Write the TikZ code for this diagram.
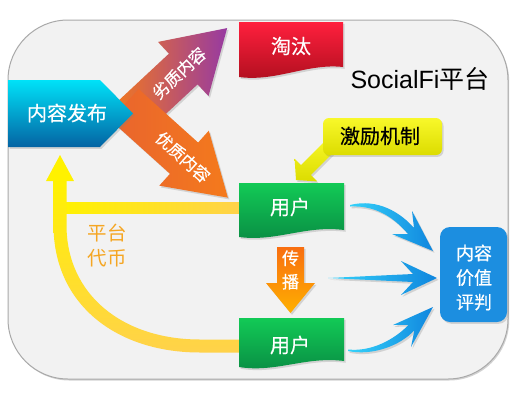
\documentclass[tikz,border=0pt]{standalone}
\usepackage{fontspec}
\setmainfont{Noto Sans CJK SC}
\newfontfamily\cjkm{Noto Sans CJK SC}[FakeBold=0.45]
\newfontfamily\latinf{Liberation Sans}
\usetikzlibrary{shadows}
\definecolor{bgfill}{HTML}{F2F2F2}
\definecolor{bgline}{HTML}{A9A9A9}
\definecolor{cyanT}{HTML}{00E2F8}
\definecolor{blueB}{HTML}{0463A3}
\definecolor{redT}{HTML}{FF1F3D}
\definecolor{redB}{HTML}{AE0F1E}
\definecolor{greenT}{HTML}{12CA56}
\definecolor{greenB}{HTML}{098C43}
\definecolor{arOrange}{HTML}{F47A1C}
\definecolor{arOrangeD}{HTML}{E9642E}
\definecolor{arPurple}{HTML}{973AA2}
\definecolor{yelA}{HTML}{FFF200}
\definecolor{yelB}{HTML}{FFD24A}
\definecolor{callT}{HTML}{F8F82A}
\definecolor{callB}{HTML}{DCDC00}
\definecolor{spOrT}{HTML}{F86E10}
\definecolor{spOrB}{HTML}{FFB000}
\definecolor{evTop}{HTML}{1C8EE0}
\definecolor{evMid}{HTML}{05CDF5}
\definecolor{swA}{HTML}{35D2FA}
\definecolor{swB}{HTML}{1086DE}
\definecolor{coinTxt}{HTML}{F5A623}
\tikzset{
  shd/.style={drop shadow={opacity=0.28, shadow xshift=1.5pt, shadow yshift=-1.8pt}},
  wtext/.style={text=white, inner sep=0pt, font=\cjkm\fontsize{#1}{#1}\selectfont},
  wtext/.default=20,
  swoosh/.style={left color=swA, right color=swB, draw=none},
}
\begin{document}
\begin{tikzpicture}[x=1pt,y=-1pt]
\useasboundingbox (0,0) rectangle (520,400);
\fill[white] (0,0) rectangle (520,400);
% platform background
\draw[bgline, fill=bgfill, line width=1pt, rounded corners=60pt,
      drop shadow={opacity=0.35, shadow xshift=1.2pt, shadow yshift=-1.5pt}]
  (8,20) rectangle (508,379);

% yellow token arrows
\path[left color=yelA, right color=yelB] (60,202.5) rectangle (241,213.5);
\path[top color=yelA, bottom color=yelB]
  (53.5,178) -- (53.5,225) .. controls (53.5,305) and (117,352.5) .. (200,352.5)
  -- (241,352.5) -- (241,339.5) -- (200,339.5)
  .. controls (123,339.5) and (66.5,295) .. (66.5,225) -- (66.5,178) -- cycle;
\fill[yelA] (60,155) -- (74,181) -- (46,181) -- cycle;
\node[text=coinTxt, inner sep=0pt, align=center, font=\fontsize{19.5}{25}\selectfont] (coin) at (107,245.5) {平台\\代币};

% diagonal arrows
\begin{scope}[shift={(135,114)}, rotate=43]
  \path[shd, left color=arOrange, right color=arPurple]
    (-14,-21) -- (66,-21) -- (66,-37) -- (126,0) -- (66,37) -- (66,21) -- (-14,21) -- cycle;
\end{scope}
\begin{scope}[shift={(135,114)}, rotate=-42]
  \path[shd, left color=arOrangeD, right color=arOrange]
    (-14,-21) -- (66,-21) -- (66,-37) -- (125,0) -- (66,37) -- (66,21) -- (-14,21) -- cycle;
\end{scope}
\node[wtext=16.5, rotate=43] (bad) at (179,73) {劣质内容};
\node[wtext=16.5, rotate=-42] (good) at (183,157) {优质内容};

% content publishing
\path[shd, top color=cyanT, bottom color=blueB]
  (8,80) -- (100,80) -- (133,113.5) -- (100,147) -- (8,147) -- cycle;
\node[wtext=20] (pub) at (67,113) {内容发布};

% eliminated
\path[shd, top color=redT, bottom color=redB]
  (239,22) -- (343,22) -- (343,67) .. controls (308,63) and (276,82) .. (239,77) -- cycle;
\node[wtext=20] (elim) at (291,46) {淘汰};

% platform title
\node[inner sep=0pt, font=\fontsize{25}{25}\selectfont] (title) at (420,79) {{\latinf SocialFi}平台};

% incentive callout
\begin{scope}[shift={(296,180)}, rotate=45]
  \path[shd, top color=callT, bottom color=callB]
    (0,0) -- (14,-16) -- (14,-7) -- (54,-7) -- (54,7) -- (14,7) -- (14,16) -- cycle;
\end{scope}
\path[shd, top color=callT, bottom color=callB, rounded corners=6pt] (323,118) rectangle (442,155);
\node[inner sep=0pt, font=\cjkm\fontsize{20}{20}\selectfont] (inc) at (380,136) {激励机制};

% users
\path[shd, top color=greenT, bottom color=greenB]
  (239,183) -- (344,183) -- (344,230) .. controls (306,225) and (276,242) .. (239,237) -- cycle;
\node[wtext=20] (u1) at (290,207) {用户};
\path[shd, top color=greenT, bottom color=greenB]
  (239,318) -- (344,318) -- (344,361) .. controls (306,356) and (276,373) .. (239,367) -- cycle;
\node[wtext=20] (u2) at (290,345) {用户};

% spread arrow
\path[shd, top color=spOrT, bottom color=spOrB]
  (277,247) -- (304,247) -- (304,283) -- (315,283) -- (290.5,313) -- (266,283) -- (277,283) -- cycle;
\node[wtext, align=center, font=\cjkm\fontsize{17}{23.5}\selectfont] (spread) at (290.5,270) {传\\播};

% evaluation box
\path[shd, top color=evTop, middle color=evMid, bottom color=evTop, rounded corners=10pt]
  (440,227) rectangle (507,322);
\node[wtext, align=center, font=\cjkm\fontsize{18}{24.5}\selectfont] (eval) at (474,277.5) {内容\\价值\\评判};

% blue swoosh arrows
\path[swoosh, shd]
  (350,205) .. controls (378,198) and (401,213) .. (414,228) -- (412,211) -- (433,251)
  -- (392,234) -- (408,234) .. controls (396,220) and (378,205) .. (350,206.5) -- cycle;
\path[swoosh, shd]
  (328,278) -- (413,274) -- (401,261) -- (437,278) -- (401,295) -- (413,282) -- cycle;
\path[swoosh, shd]
  (348,349.5) .. controls (372,352) and (395,339) .. (408.6,324.8) -- (393,325) -- (433,307)
  -- (411,347) -- (414.4,330.2) .. controls (400,346) and (372,356) .. (348,351) -- cycle;
\end{tikzpicture}
\end{document}
